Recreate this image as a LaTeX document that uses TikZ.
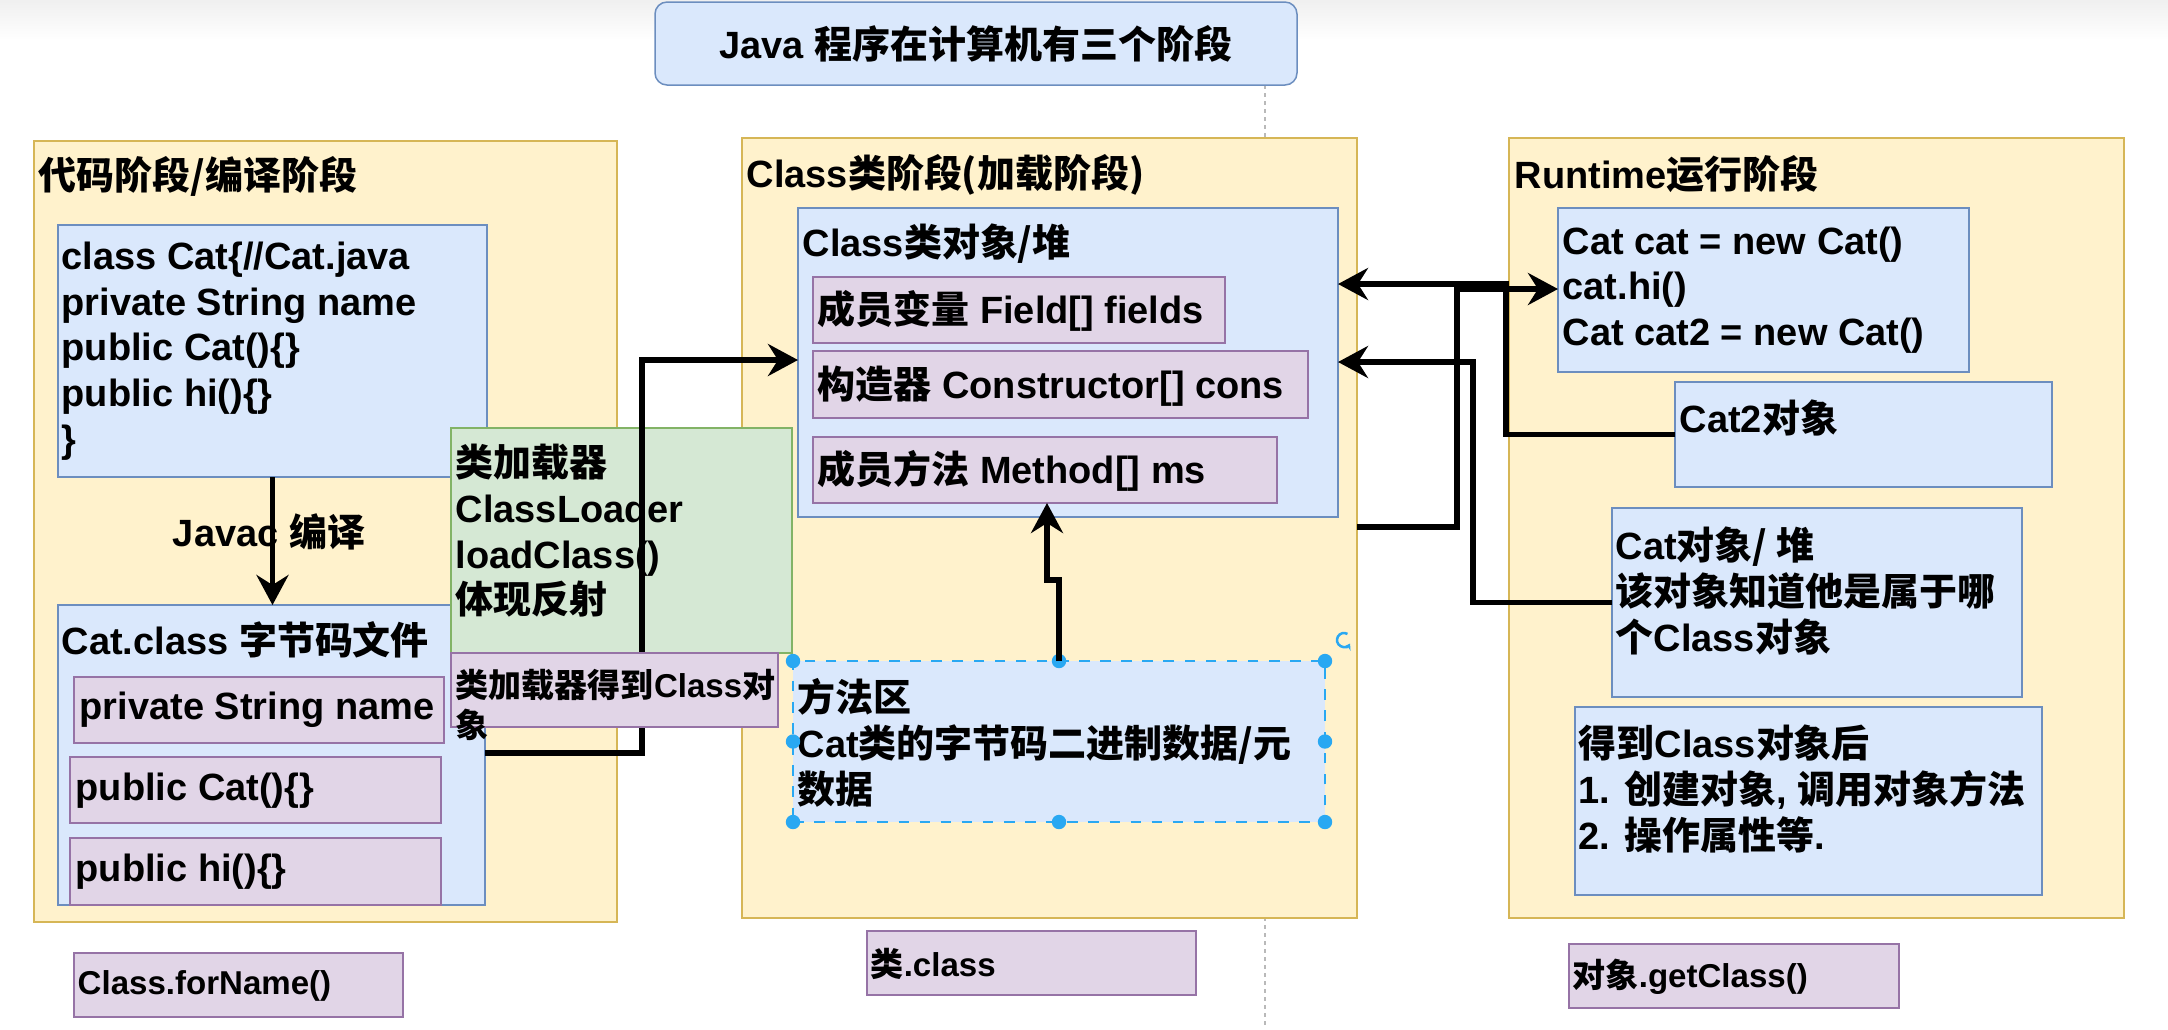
\documentclass[tikz,border=0pt]{standalone}
\usepackage{fontspec}
\setmainfont{Liberation Sans}
\newfontfamily\zhf{Noto Sans CJK SC}
\usetikzlibrary{arrows.meta,fit}
\definecolor{yelF}{HTML}{FFF2CC}\definecolor{yelD}{HTML}{D6B656}
\definecolor{bluF}{HTML}{DAE8FC}\definecolor{bluD}{HTML}{6C8EBF}
\definecolor{purF}{HTML}{E1D5E7}\definecolor{purD}{HTML}{9673A6}
\definecolor{grnF}{HTML}{D5E8D4}\definecolor{grnD}{HTML}{82B366}
\definecolor{hdl}{HTML}{29A8F2}
\newcommand\z[1]{{\zhf #1}}
\newcommand\fbig{\fontsize{10.8pt}{13pt}\selectfont\bfseries}
\newcommand\fsmall{\fontsize{9.4pt}{11.3pt}\selectfont\bfseries}
\begin{document}
\begin{tikzpicture}[x=0.01cm,y=-0.01cm,
  box/.style={draw, line width=0.015cm, inner sep=0pt, outer sep=0pt},
  yel/.style={box, fill=yelF, draw=yelD},
  blu/.style={box, fill=bluF, draw=bluD},
  pur/.style={box, fill=purF, draw=purD},
  grn/.style={box, fill=grnF, draw=grnD},
  txt/.style={anchor=west, align=left, inner sep=0pt, font=\fbig},
  stxt/.style={txt, font=\fsmall},
  conn/.style={line width=0.055cm, -{Stealth[length=0.30cm,width=0.32cm,inset=0.10cm]}},
  guide/.style={draw=gray!55, line width=0.012cm, dash pattern=on 0.04cm off 0.04cm},
  handle/.style={fill=hdl},
]
\useasboundingbox (0,0) rectangle (2168,1029);
\fill[white] (0,0) rectangle (2168,1029);
\shade[top color=black!6, bottom color=white] (0,0) rectangle (2168,40);

% page guide
\coordinate (gTop) at (1265,85);
\coordinate (gBot) at (1265,1029);
\draw[guide] (gTop) -- (gBot);

% title
\node (title) [blu, rounded corners=0.12cm, fit={(655,2)(1297,85)}] {};
\node (titleT) [font=\fbig, inner sep=0pt] at (title.center) {Java \z{程序在计算机有三个阶段}};

% stage containers
\node (left) [yel, fit={(34,141)(617,922)}] {};
\node (mid) [yel, fit={(742,138)(1357,918)}] {};
\node (right) [yel, fit={(1509,138)(2124,918)}] {};
\node (leftT) [txt] at (38,176) {\z{代码阶段/编译阶段}};
\node (midT) [txt] at (746,175) {Class\z{类阶段(加载阶段)}};
\node (rightT) [txt] at (1514,174) {Runtime\z{运行阶段}};

% code stage
\node (code) [blu, fit={(58,225)(487,477)}] {};
\node (codeT) [txt] at (61,351) {class Cat\{//Cat.java\\private String name\\public Cat()\{\}\\public hi()\{\}\\\}};
\node (catclass) [blu, fit={(58,605)(485,905)}] {};
\node (catclassT) [txt] at (61,640) {Cat.class \z{字节码文件}};
\node (p1) [pur, fit={(74,677)(444,743)}] {};
\node (p1T) [txt] at (79,710) {private String name};
\node (p2) [pur, fit={(70,757)(441,823)}] {};
\node (p2T) [txt] at (75,791) {public Cat()\{\}};
\node (p3) [pur, fit={(70,838)(441,905)}] {};
\node (p3T) [txt] at (75,872) {public hi()\{\}};

% class stage
\node (clsobj) [blu, fit={(798,208)(1338,517)}] {};
\node (clsobjT) [txt] at (802,244) {Class\z{类对象/堆}};
\node (fbox) [pur, fit={(813,277)(1225,343)}] {};
\node (fboxT) [txt] at (817,311) {\z{成员变量} Field[] fields};
\node (cbox) [pur, fit={(813,351)(1308,418)}] {};
\node (cboxT) [txt] at (817,386) {\z{构造器} Constructor[] cons};
\node (mbox) [pur, fit={(813,437)(1277,503)}] {};
\node (mboxT) [txt] at (817,471) {\z{成员方法} Method[] ms};
\node (marea) [box, fill=bluF, draw=hdl, dashed, fit={(793,661)(1325,822)}] {};
\node (mareaT) [txt] at (797,743) {\z{方法区}\\Cat\z{类的字节码二进制数据/元}\\\z{数据}};
\foreach \a in {north west,north,north east,west,east,south west,south,south east}
  \fill[handle] (marea.\a) circle[radius=0.072cm];
\coordinate (rot) at (1344,640);
\draw[hdl, line width=0.025cm, -{Stealth[length=0.06cm,width=0.08cm]}] (rot) ++(60:0.07cm) arc[start angle=60, end angle=330, radius=0.07cm];

% runtime stage
\node (catcat) [blu, fit={(1558,208)(1969,372)}] {};
\node (catcatT) [txt] at (1562,290) {Cat cat = new Cat()\\cat.hi()\\Cat cat2 = new Cat()};
\node (cat2) [blu, fit={(1675,382)(2052,487)}] {};
\node (cat2T) [txt] at (1679,418) {Cat2\z{对象}};
\node (catobj) [blu, fit={(1612,508)(2022,697)}] {};
\node (catobjT) [txt] at (1615,591) {Cat\z{对象/ 堆}\\\z{该对象知道他是属于哪}\\\z{个}Class\z{对象}};
\node (after) [blu, fit={(1575,707)(2042,895)}] {};
\node (afterT) [txt] at (1578,789) {\z{得到}Class\z{对象后}\\1. \z{创建对象}, \z{调用对象方法}\\2. \z{操作属性等}.};

% bottom labels
\node (forname) [pur, fit={(74,953)(403,1017)}] {};
\node (fornameT) [stxt] at (77,986) {Class.forName()};
\node (dotclass) [pur, fit={(867,931)(1196,995)}] {};
\node (dotclassT) [stxt] at (870,964) {\z{类}.class};
\node (getclass) [pur, fit={(1569,944)(1899,1008)}] {};
\node (getclassT) [stxt] at (1572,977) {\z{对象}.getClass()};

% class loader
\node (loader) [grn, fit={(451,428)(792,653)}] {};
\node (loaderT) [txt] at (455,531) {\z{类加载器}\\ClassLoader\\loadClass()\\\z{体现反射}};

% javac
\node (javac) [font=\fbig, inner sep=0pt] at (269,532) {Javac \z{编译}};
\draw[conn] (code.south) -- (code.south |- catclass.north);

% loader connector
\coordinate (lY) at (0,753);
\coordinate (lTop) at (642,360);
\draw[conn] (catclass.east |- lY) -| (lTop) -- (clsobj.west |- lTop);

\node (gotcls) [pur, fit={(451,653)(778,727)}] {};
\node (gotclsT) [stxt] at (455,705) {\z{类加载器得到}Class\z{对}\\\z{象}};

% method area -> methods
\coordinate (mJog) at (1047,580);
\draw[conn] (marea.north) |- (mJog) -- (mJog |- mbox.south);

% runtime connectors
\coordinate (aTop) at (1506,284);
\draw[conn] (cat2.west) -| (aTop) -- (clsobj.east |- aTop);
\coordinate (bStart) at (1357,527);
\coordinate (bTop) at (1457,289);
\draw[conn] (mid.east |- bStart) -| (bTop) -- (catcat.west |- bTop);
\coordinate (cTop) at (1473,362);
\draw[conn] (catobj.west) -| (cTop) -- (clsobj.east |- cTop);
\end{tikzpicture}
\end{document}
